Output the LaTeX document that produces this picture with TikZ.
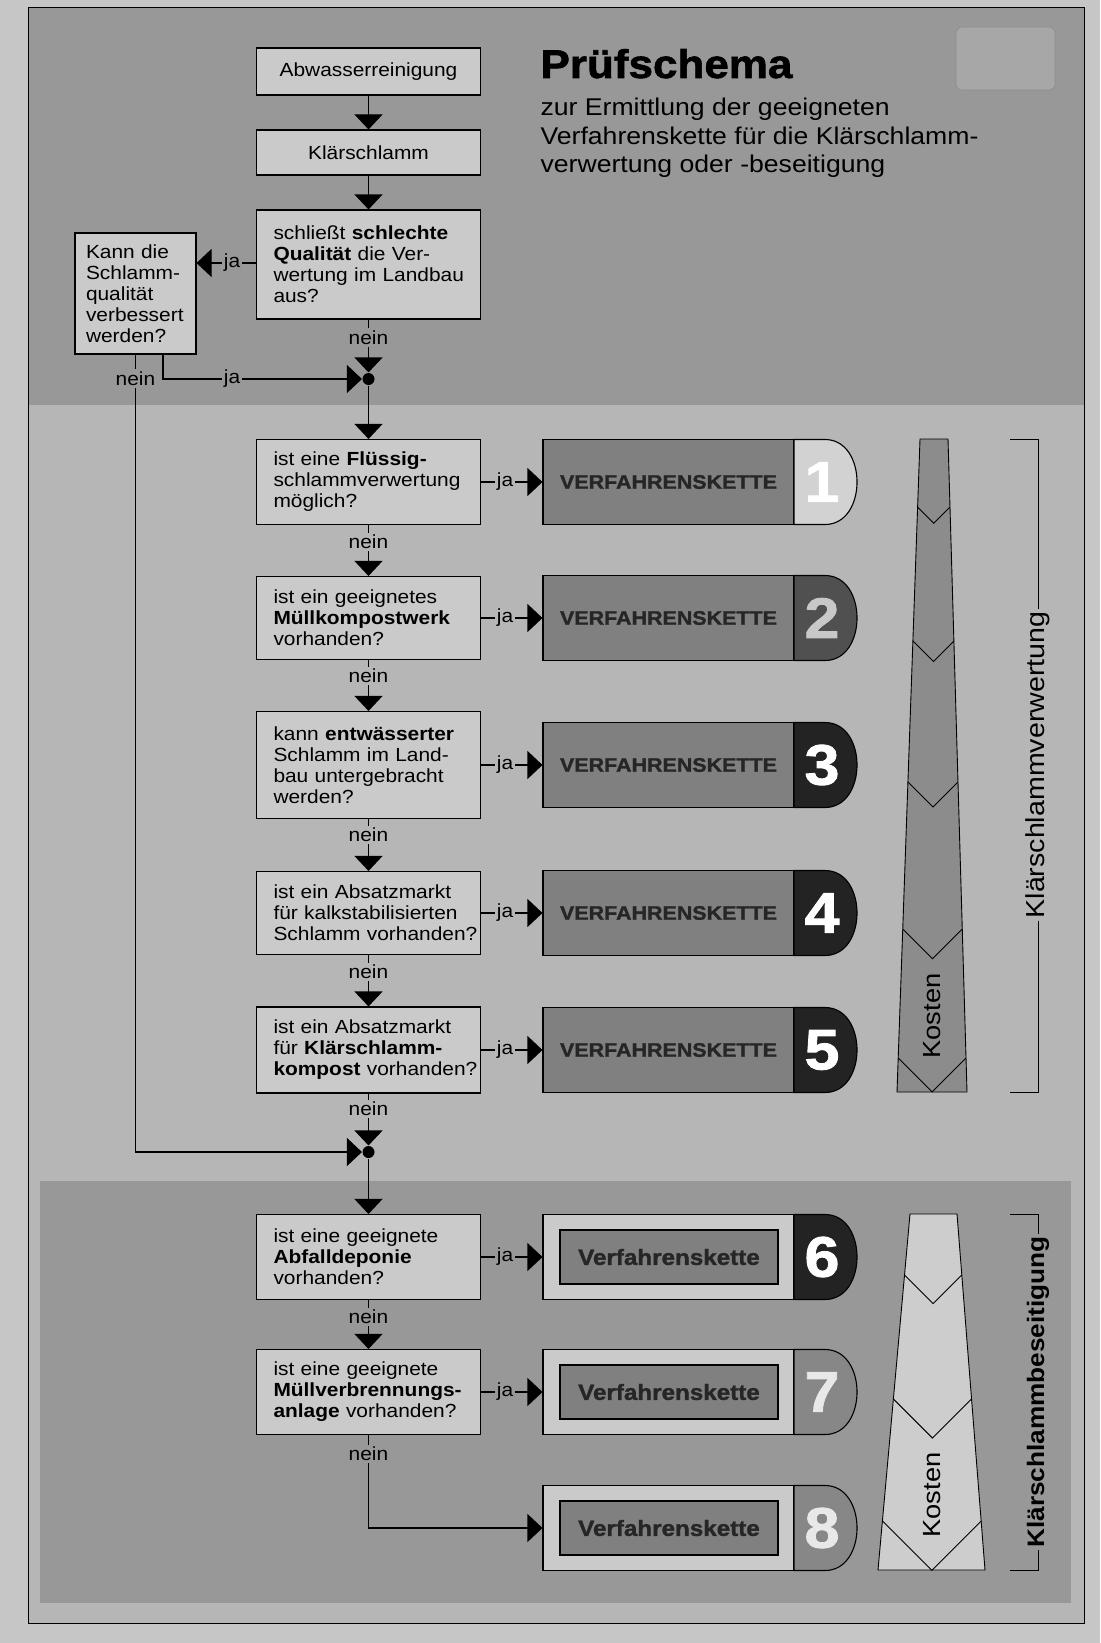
\documentclass[tikz,border=0pt]{standalone}
\usepackage{fontspec}
\setmainfont{Liberation Sans}[FakeStretch=1.1]
\newfontfamily\schwer{Liberation Sans}[FakeStretch=1.1, FakeBold=1.5]
\usetikzlibrary{arrows.meta}

\begin{document}
\begin{tikzpicture}[x=1pt, y=-1pt, line width=1.1pt,
    frage/.style={draw, fill=boxgray, text width=190pt, inner xsep=17pt, inner ysep=0pt,
        align=left, font=\fontsize{19}{21}\selectfont},
    marke/.style={inner sep=1.5pt, font=\fontsize{19}{21}\selectfont},
    pfeil/.style={-{Triangle[width=28pt,length=15pt]}},
    kette/.style={draw, fill=vkgray, minimum width=251pt, minimum height=85pt, inner sep=0pt,
        text=vktext, font=\schwer\bfseries\fontsize{19.5}{20}\selectfont},
    rahmen/.style={draw, fill=boxgray, minimum width=251pt, minimum height=85pt, inner sep=0pt},
    innen/.style={draw, fill=vkgray, minimum width=218pt, minimum height=54pt, inner sep=0pt,
        text=vktext, font=\schwer\bfseries\fontsize{22}{23}\selectfont},
    ziffer/.style={inner sep=0pt, font=\schwer\bfseries\fontsize{57}{57}\selectfont},
    punkt/.style={circle, fill=black, inner sep=0pt, minimum size=12pt},
    seite/.style={rotate=90, inner sep=2pt, font=\fontsize{26}{26}\selectfont}
]
    % Define colors
    \definecolor{papier}{RGB}{198,198,198}
    \definecolor{mitte}{RGB}{182,182,182}
    \definecolor{band}{RGB}{152,152,152}
    \definecolor{boxgray}{RGB}{202,202,202}
    \definecolor{vkgray}{RGB}{128,128,128}
    \definecolor{vktext}{RGB}{38,38,38}
    \definecolor{blight}{RGB}{210,210,210}
    \definecolor{bgrau}{RGB}{80,80,80}
    \definecolor{bdark}{RGB}{35,35,35}
    \definecolor{bmid}{RGB}{135,135,135}
    \definecolor{dgrau}{RGB}{200,200,200}
    \definecolor{dlight}{RGB}{232,232,232}
    \definecolor{turm}{RGB}{140,140,140}
    \definecolor{turmhell}{RGB}{205,205,205}

    % Page, bands and frame
    \useasboundingbox (0,0) rectangle (1100,1643);
    \fill[papier] (0,0) rectangle (1100,1643);
    \fill[mitte] (28,7) rectangle (1084,1623);
    \fill[band] (28,7) rectangle (1084,405);
    \fill[band] (40,1181) rectangle (1071,1603);
    \draw[line width=0.8pt] (28,7) rectangle (1084,1623);
    \draw[black!45, fill=band!85!white, rounded corners=6pt, line width=0.6pt] (956,27) rectangle (1055,90);

    % Title
    \node[anchor=base west, inner sep=0pt, font=\schwer\bfseries\fontsize{40}{40}\selectfont] (titel) at (540,78) {Prüfschema};
    \node[anchor=north west, inner sep=0pt, align=left, font=\fontsize{24.2}{28.5}\selectfont] (untertitel) at (540,97.5)
        {zur Ermittlung der geeigneten\\Verfahrenskette für die Klärschlamm-\\verwertung oder -beseitigung};

    % Boxes
    \node[frage, minimum height=47pt, align=center] (abw) at (368.5,71.5) {Abwasserreinigung};
    \node[frage, minimum height=45pt, align=center] (ksl) at (368.5,152.5) {Klärschlamm};
    \node[frage, minimum height=109pt] (q0) at (368.5,264.5) {schließt \textbf{schlechte}\\\textbf{Qualität} die Ver-\\\mbox{wertung im Landbau}\\aus?};
    \node[frage, text width=99pt, inner xsep=11pt, minimum height=121pt] (qk) at (135.5,293.5) {Kann die\\Schlamm-\\qualität\\verbessert\\werden?};
    \node[punkt] (m1) at (368.5,379) {};
    \node[frage, minimum height=85pt] (q1) at (368.5,482) {ist eine \textbf{Flüssig-}\\schlammverwertung\\möglich?};
    \node[frage, minimum height=83pt] (q2) at (368.5,618) {ist ein geeignetes\\\textbf{Müllkompostwerk}\\vorhanden?};
    \node[frage, minimum height=107pt] (q3) at (368.5,765) {kann \textbf{entwässerter}\\Schlamm im Land-\\bau untergebracht\\werden?};
    \node[frage, minimum height=83pt] (q4) at (368.5,913) {ist ein Absatzmarkt\\für kalkstabilisierten\\\mbox{Schlamm vorhanden?}};
    \node[frage, minimum height=86pt] (q5) at (368.5,1050) {ist ein Absatzmarkt\\für \textbf{Klärschlamm-}\\\mbox{\textbf{kompost} vorhanden?}};
    \node[punkt] (m2) at (368.5,1152) {};
    \node[frage, minimum height=85pt] (q6) at (368.5,1257) {ist eine geeignete\\\textbf{Abfalldeponie}\\vorhanden?};
    \node[frage, minimum height=85pt] (q7) at (368.5,1392) {ist eine geeignete\\\textbf{Müllverbrennungs-}\\\mbox{\textbf{anlage} vorhanden?}};

    % Verfahrensketten 1-5
    \foreach \n/\y/\bc/\dc in {1/482/blight/white, 2/618/bgrau/dgrau, 3/765/bdark/white, 4/913/bdark/white, 5/1050/bdark/white} {
        \node[kette] (vk\n) at (668.5,\y) {VERFAHRENSKETTE};
        \draw[fill=\bc] (794,\y-42.5) -- (825,\y-42.5) .. controls (867.7,\y-42.5) and (867.7,\y+42.5) .. (825,\y+42.5) -- (794,\y+42.5) -- cycle;
        \node[ziffer, text=\dc] (z\n) at (822,\y) {\n};
    }

    % Verfahrensketten 6-8
    \foreach \n/\y/\bc/\dc in {6/1257/bdark/white, 7/1392/bmid/dlight, 8/1528/bmid/dlight} {
        \node[rahmen] (vk\n) at (668.5,\y) {};
        \node[innen] (vi\n) at (669,\y) {Verfahrenskette};
        \draw[fill=\bc] (794,\y-42.5) -- (825,\y-42.5) .. controls (867.7,\y-42.5) and (867.7,\y+42.5) .. (825,\y+42.5) -- (794,\y+42.5) -- cycle;
        \node[ziffer, text=\dc] (z\n) at (822,\y) {\n};
    }

    % Labels
    \node[marke] (n0) at (368.5,337.5) {nein};
    \node[marke] (nK) at (135.5,378.5) {nein};
    \node[marke] (jq) at (232,263) {ja};
    \node[marke] (jK) at (232,379) {ja};
    \foreach \n/\y in {1/542,2/676,3/835,4/972,5/1109,6/1317,7/1454}
        \node[marke] (n\n) at (368.5,\y) {nein};
    \foreach \n/\y in {1/482,2/618,3/765,4/913,5/1050,6/1257,7/1392}
        \node[marke] (j\n) at (505,\y) {ja};

    % Connectors
    \draw[pfeil] (abw) -- (ksl);
    \draw[pfeil] (ksl) -- (q0);
    \draw (q0.west |- jq) -- (jq);
    \draw[pfeil] (jq) -- (jq -| qk.east);
    \draw (q0) -- (n0);
    \draw[pfeil] (n0) -- (m1);
    \draw (qk) -- (nK);
    \draw[pfeil] (nK) |- (m2);
    \draw ([xshift=27.5pt]qk.south) |- (jK);
    \draw[pfeil] (jK) -- (m1);
    \draw[pfeil] (m1) -- (q1);
    \foreach \a/\b in {1/2,2/3,3/4,4/5,6/7} {
        \draw (q\a) -- (n\a);
        \draw[pfeil] (n\a) -- (q\b);
    }
    \draw (q5) -- (n5);
    \draw[pfeil] (n5) -- (m2);
    \draw[pfeil] (m2) -- (q6);
    \draw (q7) -- (n7);
    \draw[pfeil] (n7) |- (vk8);
    \foreach \n in {1,...,7} {
        \draw (q\n) -- (j\n);
        \draw[pfeil] (j\n) -- (vk\n);
    }

    % Kosten (Verwertung)
    \draw[fill=turm, line width=0.9pt] (920,439) -- (948,439) -- (967,1092) -- (897,1092) -- cycle;
    \foreach \ys in {507,641,782,929,1058} {
        \pgfmathsetmacro\xl{920-23*(\ys-439)/653}
        \pgfmathsetmacro\xr{948+19*(\ys-439)/653}
        \draw[line width=0.9pt] (\xl,\ys) -- ({(\xl+\xr)/2},{\ys+(\xr-\xl)/2}) -- (\xr,\ys);
    }
    \node[rotate=90, inner sep=0pt, font=\fontsize{24.8}{25}\selectfont] (kosten1) at (932,1016) {Kosten};

    % Kosten (Beseitigung)
    \draw[fill=turmhell, line width=0.9pt] (910,1214) -- (957,1214) -- (985,1570) -- (878,1570) -- cycle;
    \foreach \ys in {1275,1399,1521} {
        \pgfmathsetmacro\xl{910-32*(\ys-1214)/356}
        \pgfmathsetmacro\xr{957+28*(\ys-1214)/356}
        \draw[line width=0.9pt] (\xl,\ys) -- ({(\xl+\xr)/2},{\ys+(\xr-\xl)/2}) -- (\xr,\ys);
    }
    \node[rotate=90, inner sep=0pt, font=\fontsize{24.8}{25}\selectfont] (kosten2) at (932,1495) {Kosten};

    % Brackets
    \node[seite] (verw) at (1038,765) {Klärschlammverwertung};
    \coordinate (verwO) at (1010,439);
    \coordinate (verwU) at (1010,1092);
    \draw[line width=0.9pt] (verw.east) |- (verwO);
    \draw[line width=0.9pt] (verw.west) |- (verwU);
    \node[seite, font=\bfseries\fontsize{23.8}{24}\selectfont] (bes) at (1038,1392) {Klärschlammbeseitigung};
    \coordinate (besO) at (1010,1214);
    \coordinate (besU) at (1010,1570);
    \draw[line width=0.9pt] (bes.east) |- (besO);
    \draw[line width=0.9pt] (bes.west) |- (besU);

\end{tikzpicture}
\end{document}
